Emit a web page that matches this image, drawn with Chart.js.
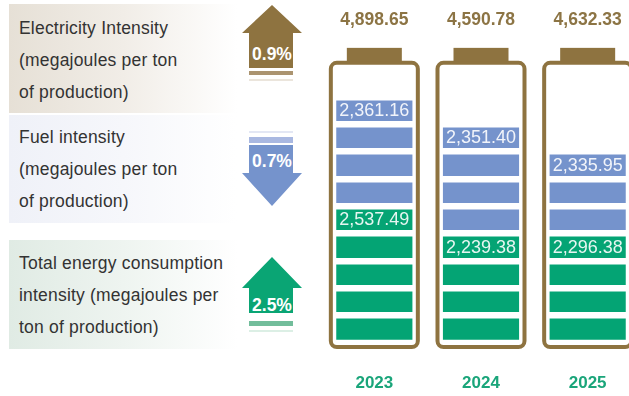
<!DOCTYPE html>
<html>
<head>
<meta charset="utf-8">
<script src="https://cdn.jsdelivr.net/npm/chart.js@4.4.1/dist/chart.umd.min.js"></script>
<style>
  html, body { margin: 0; padding: 0; width: 629px; height: 396px; overflow: hidden; background: #fff; }
  body { position: relative; font-family: "Liberation Sans", Arial, sans-serif; }
  .panel { position: absolute; left: 9px; width: 228px; height: 109px; color: #333; font-size: 17.5px; line-height: 32px; letter-spacing: 0.2px; }
  .panel .txt { position: absolute; left: 10px; white-space: nowrap; }
  #p1 { top: 4px; background: linear-gradient(to right, #e6e0d6 0%, #f1ede7 50%, #ffffff 100%); }
  #p1 .txt { top: 8px; }
  #p2 { top: 115px; height: 108px; background: linear-gradient(to right, #eff1f8 0%, #f6f7fb 50%, #ffffff 100%); }
  #p2 .txt { top: 6px; }
  #p3 { top: 240px; height: 109px; background: linear-gradient(to right, #e0ebe4 0%, #eef4f0 50%, #ffffff 100%); }
  #p3 .txt { top: 7px; }
  #arrows { position: absolute; left: 0; top: 0; }
  #chartWrap { position: absolute; left: 321px; top: 0; width: 320px; height: 396px; }
</style>
</head>
<body>
<div class="panel" id="p1"><div class="txt">Electricity Intensity<br>(megajoules per ton<br>of production)</div></div>
<div class="panel" id="p2"><div class="txt">Fuel intensity<br>(megajoules per ton<br>of production)</div></div>
<div class="panel" id="p3"><div class="txt">Total energy consumption<br>intensity (megajoules per<br>ton of production)</div></div>

<svg id="arrows" width="629" height="396" xmlns="http://www.w3.org/2000/svg">
  <!-- brown up arrow -->
  <polygon points="272,5 302,33 293,33 293,68 249,68 249,33 242,33" fill="#8e7340"/>
  <rect x="249" y="71" width="44" height="4" fill="#ab9470"/>
  <rect x="249" y="79" width="44" height="2" fill="#ebe5dc"/>
  <text id="chg1" x="272" y="54" fill="#fff" font-family="Liberation Sans, Arial, sans-serif" font-weight="bold" font-size="17.5" text-anchor="middle" dominant-baseline="central"></text>
  <!-- blue down arrow -->
  <rect x="249" y="131" width="44" height="2" fill="#e3e7f4"/>
  <rect x="249" y="137" width="44" height="6" fill="#a9b8e1"/>
  <polygon points="249,145 293,145 293,173 302,173 272,206 242,173 249,173" fill="#7593cc"/>
  <text id="chg2" x="272" y="161" fill="#fff" font-family="Liberation Sans, Arial, sans-serif" font-weight="bold" font-size="17.5" text-anchor="middle" dominant-baseline="central"></text>
  <!-- green up arrow -->
  <polygon points="272,257 302,288 293,288 293,313 249,313 249,288 242,288" fill="#0aa574"/>
  <rect x="249" y="321" width="44" height="5" fill="#72bd9b"/>
  <rect x="249" y="330" width="44" height="2" fill="#dcefe5"/>
  <text id="chg3" x="272" y="305" fill="#fff" font-family="Liberation Sans, Arial, sans-serif" font-weight="bold" font-size="17.5" text-anchor="middle" dominant-baseline="central"></text>
</svg>

<div id="chartWrap"><canvas id="batteryChart"></canvas></div>

<script>
const years = ['2023', '2024', '2025'];
const totalValues = [4898.65, 4590.78, 4632.33];
const fuelValues = [2361.16, 2351.40, 2335.95];
const electricityValues = [2537.49, 2239.38, 2296.38];
// number of filled battery cells drawn for each year
const electricityCells = [5, 4, 4];
const fuelCells = [4, 4, 3];
const batterySlots = 10;
const changeLabels = ['0.9%', '0.7%', '2.5%'];

const BROWN = '#8e7340';
const BLUE = '#7593cc';
const GREEN = '#04a474';

document.getElementById('chg1').textContent = changeLabels[0];
document.getElementById('chg2').textContent = changeLabels[1];
document.getElementById('chg3').textContent = changeLabels[2];

function fmt(v) {
  return v.toLocaleString('en-US', { minimumFractionDigits: 2, maximumFractionDigits: 2 });
}

const batteryPlugin = {
  id: 'battery',
  afterDraw(chart) {
    const ctx = chart.ctx;
    const xs = chart.scales.x;
    const ys = chart.scales.y;
    const base = ys.getPixelForValue(0);
    const frameTop = ys.getPixelForValue(batterySlots) - 8.5;
    const frameBottom = base + 6;
    ctx.save();
    years.forEach((yr, i) => {
      const cx = xs.getPixelForValue(i);
      // body outline
      ctx.strokeStyle = BROWN;
      ctx.lineWidth = 4;
      ctx.beginPath();
      ctx.roundRect(cx - 43.5, frameTop + 2, 87, frameBottom - frameTop - 4, 6);
      ctx.stroke();
      // cap
      ctx.fillStyle = BROWN;
      ctx.fillRect(cx - 27.5, frameTop - 13, 55, 14);
      // total on top
      ctx.fillStyle = '#8c7444';
      ctx.font = 'bold 17.5px "Liberation Sans", Arial, sans-serif';
      ctx.textAlign = 'center';
      ctx.textBaseline = 'middle';
      ctx.fillText(fmt(totalValues[i]), cx, 20.5);
      // values inside top cell of each part
      ctx.fillStyle = 'rgba(255,255,255,0.9)';
      ctx.font = '18px "Liberation Sans", Arial, sans-serif';
      ctx.fillText(fmt(electricityValues[i]), cx, ys.getPixelForValue(electricityCells[i] - 0.5) + 0.5);
      ctx.fillText(fmt(fuelValues[i]), cx, ys.getPixelForValue(electricityCells[i] + fuelCells[i] - 0.5) + 0.5);
    });
    ctx.restore();
  }
};

new Chart(document.getElementById('batteryChart').getContext('2d'), {
  type: 'bar',
  data: {
    labels: years,
    datasets: [
      { label: 'Electricity', data: electricityCells, backgroundColor: GREEN, stack: 'cells' },
      { label: 'Fuel', data: fuelCells, backgroundColor: BLUE, stack: 'cells' },
    ],
  },
  options: {
    responsive: true,
    maintainAspectRatio: false,
    animation: false,
    categoryPercentage: 0.714,
    barPercentage: 1,
    layout: { padding: { top: 42, left: 0, right: 0, bottom: 0 } },
    plugins: { legend: { display: false }, tooltip: { enabled: false } },
    scales: {
      x: {
        stacked: true,
        grid: { display: false, drawTicks: false },
        border: { display: false },
        ticks: { color: '#1aa57a', font: { family: '"Liberation Sans", Arial, sans-serif', size: 17, weight: 'bold' }, padding: 30 },
        afterFit: (s) => { s.height = 53; },
      },
      y: {
        stacked: true,
        min: 0,
        max: 11,
        grid: { color: '#ffffff', lineWidth: 6.4, drawTicks: false, z: 1 },
        border: { display: false },
        ticks: { display: false, stepSize: 1 },
        afterFit: (s) => { s.width = 0; },
      },
    },
  },
  plugins: [batteryPlugin],
});
</script>
</body>
</html>
